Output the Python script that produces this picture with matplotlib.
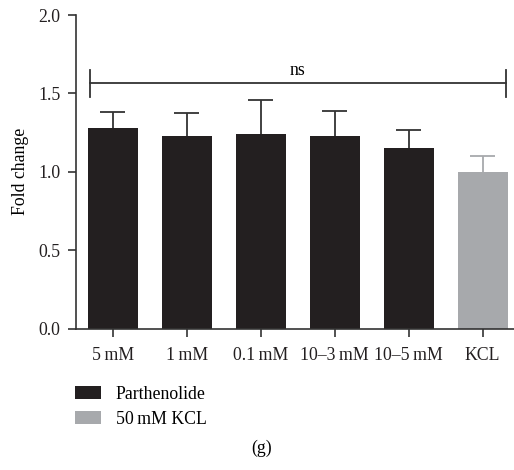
import matplotlib
matplotlib.use("Agg")
import matplotlib.pyplot as plt
from matplotlib.patches import Patch
import numpy as np

categories = ["5\u2009mM", "1\u2009mM", "0.1\u2009mM", "10\u20133\u2009mM", "10\u20135\u2009mM", "KCL"]
fold_change = [1.28, 1.225, 1.24, 1.225, 1.15, 1.0]
errors = [0.10, 0.15, 0.22, 0.16, 0.115, 0.10]
groups = ["Parthenolide"] * 5 + ["50\u2009mM KCL"]

dark = "#231f20"
grey = "#a7a9ac"

plt.rcParams['font.family'] = ['Liberation Serif', 'DejaVu Serif']
plt.rcParams['font.size'] = 12.8

fig = plt.figure(figsize=(5.14, 4.70), dpi=100)
ax = fig.add_axes([76 / 514, 1 - 328.5 / 470, 438 / 514, (328.5 - 15) / 470])

x = np.arange(len(categories))
vals = np.array(fold_change)
errs = np.array(errors)
colors = [dark if g == "Parthenolide" else grey for g in groups]
ax.bar(x, vals, width=0.68, color=colors, zorder=2)

# upper error bars only (stem + cap)
err_colors = ["#333333" if c == dark else grey for c in colors]
ax.vlines(x, vals, vals + errs, colors=err_colors, lw=1.3, zorder=1)
ax.hlines(vals + errs, x - 0.17, x + 0.17, colors=err_colors, lw=1.3, zorder=1)

# significance bracket
y_sig = 1.565
ax.plot([-0.31, 5.31], [y_sig, y_sig], color="#333333", lw=1.3, clip_on=False)
for xe in [-0.31, 5.31]:
    ax.plot([xe, xe], [y_sig - 0.085, y_sig + 0.085], color="#333333", lw=1.3, clip_on=False)
ax.text(2.5, y_sig + 0.025, "ns", ha="center", va="bottom")

ax.set_xlim(-0.496, 5.423)
ax.set_ylim(0, 2.0)
ax.set_yticks([0, 0.5, 1.0, 1.5, 2.0])
ax.set_yticklabels(["0.0", "0.5", "1.0", "1.5", "2.0"])
ax.set_xticks(x)
ax.set_xticklabels(categories)
ax.set_ylabel("Fold change", labelpad=7)

for s in ["top", "right"]:
    ax.spines[s].set_visible(False)
for s in ["left", "bottom"]:
    ax.spines[s].set_linewidth(1.2)
    ax.spines[s].set_color("#333333")
ax.tick_params(axis="both", width=1.2, length=6, color="#333333", colors="#231f20")
ax.tick_params(axis="x", pad=7)
ax.tick_params(axis="y", pad=5)

handles = [Patch(facecolor=dark, label="Parthenolide"),
           Patch(facecolor=grey, label="50\u2009mM KCL")]
fig.legend(handles=handles, loc="upper left", bbox_to_anchor=(59 / 514, 1 - 370 / 470),
           frameon=False, handlelength=1.45, handleheight=0.75, handletextpad=0.85,
           labelspacing=0.45)

fig.text(262 / 514, 1 - 448 / 470, "(g)", ha="center", va="center")

fig.savefig("out.png", dpi=100)
